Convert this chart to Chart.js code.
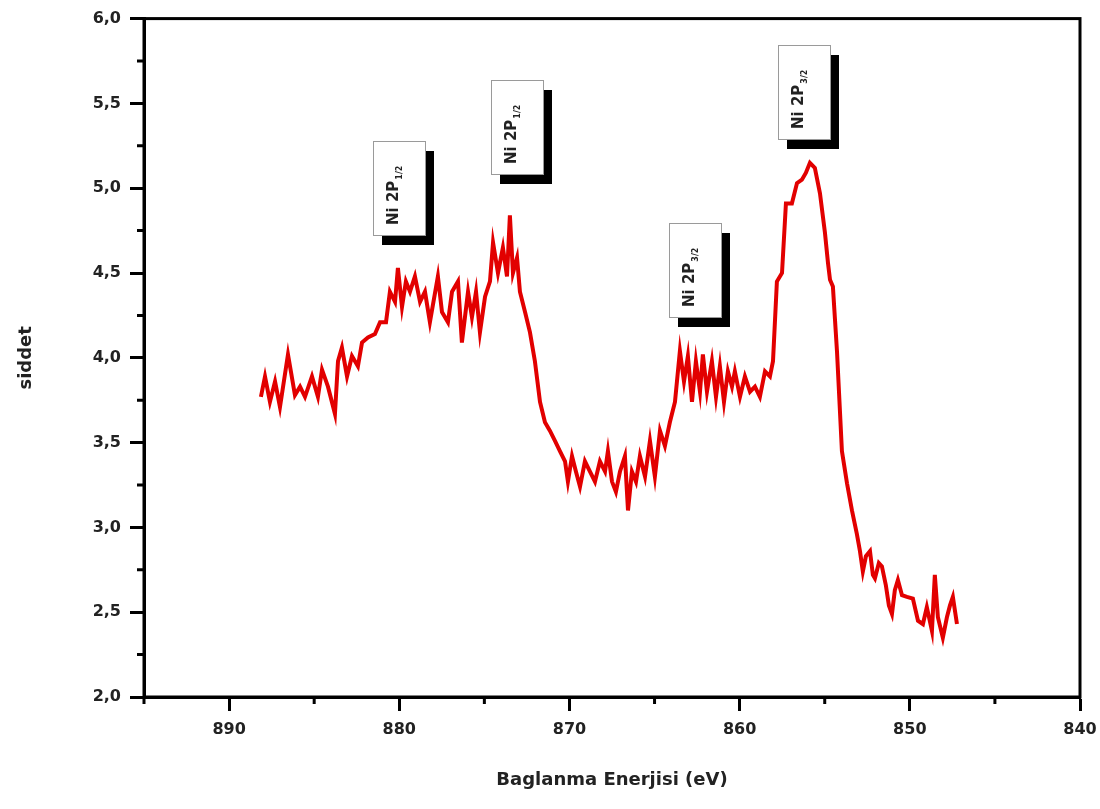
<!DOCTYPE html>
<html>
<head>
<meta charset="utf-8">
<script src="https://cdn.jsdelivr.net/npm/chart.js@4.4.1/dist/chart.umd.min.js"></script>
<style>
  html, body { margin: 0; padding: 0; background: #fff; }
  #wrap { width: 1100px; height: 809px; }
</style>
</head>
<body>
<div id="wrap"><canvas id="xps"></canvas></div>
<script>
// binding energy (eV) and intensity
const energy = [
  888.13, 887.89, 887.60, 887.30, 887.01, 886.54, 886.13, 885.83, 885.54, 885.13,
  884.78, 884.54, 884.19, 883.78, 883.60, 883.37, 883.07, 882.78, 882.43, 882.19,
  881.84, 881.43, 881.13, 880.78, 880.55, 880.25, 880.08, 879.84, 879.61, 879.37,
  879.08, 878.78, 878.49, 878.20, 877.73, 877.49, 877.14, 876.90, 876.55, 876.32,
  875.96, 875.73, 875.49, 875.26, 874.96, 874.67, 874.49, 874.20, 873.91, 873.67,
  873.50, 873.32, 873.08, 872.91, 872.61, 872.32, 872.03, 871.73, 871.44, 871.15,
  870.85, 870.56, 870.26, 870.09, 869.85, 869.62, 869.38, 869.09, 868.80, 868.50,
  868.21, 867.91, 867.74, 867.50, 867.27, 867.03, 866.74, 866.56, 866.33, 866.09,
  865.86, 865.56, 865.27, 864.98, 864.68, 864.39, 864.10, 863.80, 863.51, 863.27,
  863.04, 862.80, 862.57, 862.33, 862.16, 861.92, 861.63, 861.39, 861.16, 860.92,
  860.69, 860.45, 860.28, 859.98, 859.69, 859.39, 859.10, 858.81, 858.51, 858.22,
  858.04, 857.81, 857.51, 857.28, 856.93, 856.63, 856.34, 856.11, 855.87, 855.58,
  855.28, 854.99, 854.81, 854.69, 854.52, 854.28, 853.99, 853.69, 853.40, 853.11,
  852.93, 852.76, 852.58, 852.34, 852.17, 852.05, 851.82, 851.64, 851.41, 851.23,
  851.05, 850.88, 850.70, 850.46, 850.17, 849.82, 849.52, 849.23, 849.00, 848.70,
  848.53, 848.35, 848.06, 847.82, 847.64, 847.47, 847.23
];
const intensity = [
  3.77, 3.89, 3.74, 3.86, 3.71, 4.02, 3.78, 3.83, 3.77, 3.89,
  3.77, 3.93, 3.83, 3.67, 3.98, 4.06, 3.89, 4.01, 3.95, 4.09,
  4.12, 4.14, 4.21, 4.21, 4.39, 4.33, 4.53, 4.30, 4.45, 4.39,
  4.48, 4.33, 4.39, 4.21, 4.48, 4.27, 4.21, 4.39, 4.45, 4.09,
  4.39, 4.24, 4.39, 4.15, 4.36, 4.45, 4.68, 4.50, 4.65, 4.48,
  4.84, 4.50, 4.59, 4.39, 4.27, 4.15, 3.98, 3.74, 3.62, 3.57,
  3.51, 3.45, 3.39, 3.27, 3.42, 3.33, 3.24, 3.39, 3.33, 3.27,
  3.39, 3.33, 3.45, 3.27, 3.21, 3.33, 3.42, 3.10, 3.33, 3.27,
  3.42, 3.30, 3.51, 3.30, 3.57, 3.48, 3.62, 3.74, 4.04, 3.86,
  4.01, 3.74, 3.98, 3.80, 4.02, 3.80, 3.98, 3.77, 3.95, 3.74,
  3.92, 3.83, 3.92, 3.77, 3.89, 3.80, 3.83, 3.77, 3.92, 3.89,
  3.98, 4.45, 4.50, 4.91, 4.91, 5.03, 5.05, 5.09, 5.15, 5.12,
  4.97, 4.74, 4.56, 4.46, 4.42, 4.04, 3.45, 3.26, 3.10, 2.96,
  2.86, 2.74, 2.83, 2.86, 2.72, 2.70, 2.79, 2.77, 2.66, 2.54,
  2.49, 2.63, 2.69, 2.60, 2.59, 2.58, 2.45, 2.43, 2.53, 2.39,
  2.72, 2.47, 2.35, 2.47, 2.54, 2.59, 2.43
];

const xTicks = [890, 880, 870, 860, 850, 840];
const xMinor = [895, 885, 875, 865, 855, 845];
const yTicks = [2.0, 2.5, 3.0, 3.5, 4.0, 4.5, 5.0, 5.5, 6.0];
const yMinor = [2.25, 2.75, 3.25, 3.75, 4.25, 4.75, 5.25, 5.75];

// peak labels: text, subscript, anchor (box centre) in data units
const peakText = ['Ni 2P', 'Ni 2P', 'Ni 2P', 'Ni 2P'];
const peakSub = ['1/2', '1/2', '3/2', '3/2'];
const peakX = [880.0, 873.1, 862.6, 856.2];
const peakY = [5.0, 5.36, 4.52, 5.57];

const FONT = "'DejaVu Sans', sans-serif";

const frame = {
  id: 'frame',
  afterDraw(chart) {
    const { ctx, chartArea: a, scales } = chart;
    ctx.save();
    ctx.strokeStyle = '#000';
    ctx.lineWidth = 3;
    ctx.strokeRect(a.left, a.top, a.right - a.left, a.bottom - a.top);
    // minor ticks
    ctx.beginPath();
    xMinor.forEach(v => {
      const px = scales.x.getPixelForValue(v);
      ctx.moveTo(px, a.bottom);
      ctx.lineTo(px, a.bottom + 7);
    });
    yMinor.forEach(v => {
      const py = scales.y.getPixelForValue(v);
      ctx.moveTo(a.left, py);
      ctx.lineTo(a.left - 7, py);
    });
    ctx.stroke();
    ctx.restore();
  }
};

const peakLabels = {
  id: 'peakLabels',
  afterDatasetsDraw(chart) {
    const { ctx, scales } = chart;
    const w = 52, h = 94;
    ctx.save();
    peakText.forEach((t, i) => {
      const cx = scales.x.getPixelForValue(peakX[i]);
      const cy = scales.y.getPixelForValue(peakY[i]);
      const x = Math.round(cx - w / 2), y = Math.round(cy - h / 2);
      ctx.fillStyle = '#000';
      ctx.fillRect(x + 9, y + 10, w, h);
      ctx.fillStyle = '#fff';
      ctx.fillRect(x, y, w, h);
      ctx.strokeStyle = '#9a9a9a';
      ctx.lineWidth = 1;
      ctx.strokeRect(x + 0.5, y + 0.5, w, h);

      ctx.save();
      ctx.translate(x + w * 0.40, y + h - 10);
      ctx.rotate(-Math.PI / 2);
      ctx.fillStyle = '#222';
      ctx.font = 'bold 15px ' + FONT;
      ctx.textAlign = 'left';
      ctx.textBaseline = 'middle';
      ctx.fillText(t, 0, 0);
      const tw = ctx.measureText(t).width;
      ctx.font = 'bold 8px ' + FONT;
      ctx.fillText(peakSub[i], tw + 1, 6);
      ctx.restore();
    });
    ctx.restore();
  }
};

new Chart(document.getElementById('xps'), {
  type: 'line',
  data: {
    datasets: [{
      label: 'Ni 2P',
      data: energy.map((e, i) => ({ x: e, y: intensity[i] })),
      borderColor: '#e20000',
      borderWidth: 4,
      pointRadius: 0,
      tension: 0,
      fill: false
    }]
  },
  options: {
    responsive: true,
    maintainAspectRatio: false,
    animation: false,
    layout: { padding: { left: 0, right: 20, top: 15, bottom: 10 } },
    plugins: {
      legend: { display: false },
      tooltip: { enabled: false }
    },
    scales: {
      x: {
        type: 'linear',
        reverse: true,
        min: 840,
        max: 895,
        afterBuildTicks: s => { s.ticks = xTicks.map(v => ({ value: v })); },
        afterFit: s => {
          s.height = 809 - 697 - 10;
          s.paddingLeft = 0;
          s.paddingRight = 0;
        },
        border: { display: true, color: '#000', width: 3 },
        grid: { drawOnChartArea: false, drawTicks: true, tickLength: 14, tickWidth: 3, tickColor: '#000' },
        ticks: {
          color: '#222',
          padding: 9,
          maxRotation: 0,
          font: { family: FONT, size: 16, weight: 'bold' },
          callback: v => String(v)
        },
        title: {
          display: true,
          text: 'Baglanma Enerjisi (eV)',
          color: '#222',
          padding: { top: 0, bottom: 8 },
          font: { family: FONT, size: 18, weight: 'bold' }
        }
      },
      y: {
        min: 2,
        max: 6,
        afterBuildTicks: s => { s.ticks = yTicks.map(v => ({ value: v })); },
        afterFit: s => { s.width = 144; },
        border: { display: true, color: '#000', width: 3 },
        grid: { drawOnChartArea: false, drawTicks: true, tickLength: 14, tickWidth: 3, tickColor: '#000' },
        ticks: {
          color: '#222',
          padding: 9,
          font: { family: FONT, size: 16, weight: 'bold' },
          callback: v => Number(v).toFixed(1).replace('.', ',')
        },
        title: {
          display: true,
          text: 'siddet',
          color: '#222',
          padding: { top: 16 },
          font: { family: FONT, size: 18, weight: 'bold' }
        }
      }
    }
  },
  plugins: [frame, peakLabels]
});
</script>
</body>
</html>
